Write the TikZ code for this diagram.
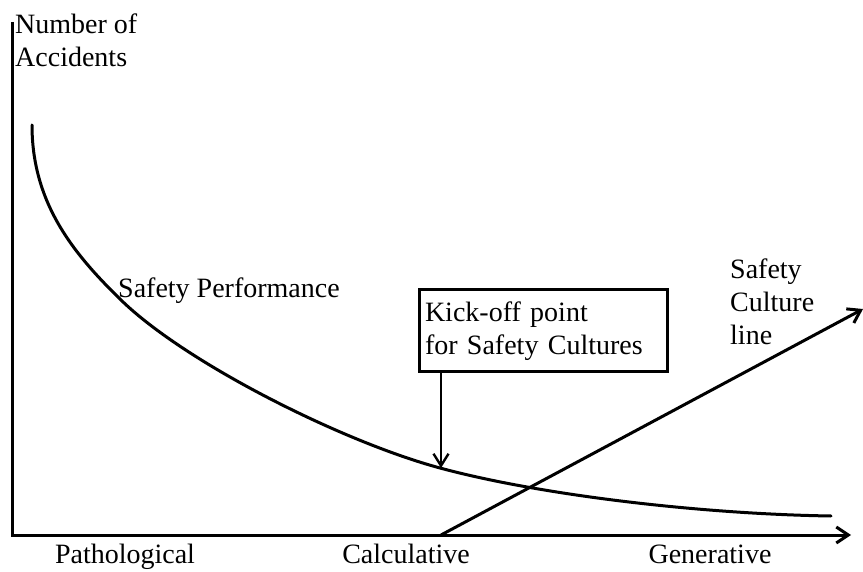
\documentclass[tikz,border=0pt]{standalone}
\usepackage{fontspec}
\setmainfont{Liberation Serif}
\usetikzlibrary{arrows.meta}

\begin{document}
\begin{tikzpicture}[
    x=1pt, y=-1pt,
    axis/.style={line width=3pt, -{Straight Barb[length=12pt, width=16pt]}},
    curve/.style={line width=3pt, line cap=round},
    pointer/.style={line width=2.4pt, -{Straight Barb[length=12pt, width=15pt]}},
    label/.style={inner sep=0pt, font=\fontsize{28}{33}\selectfont},
    kickbox/.style={draw, line width=3pt, minimum width=248pt, minimum height=82pt,
        text width=236pt, align=left, inner sep=0pt, font=\fontsize{28}{33}\selectfont}
]
\useasboundingbox (0,0) rectangle (863,572);

\coordinate (ytop) at (12,22);
\coordinate (origin) at (12,535);
\coordinate (xend) at (851,535);
\coordinate (cstart) at (441,535);
\coordinate (cend) at (863,309);
\coordinate (kicktip) at (441,468);
\coordinate (ptop) at (32,125);
\coordinate (pmid) at (118,297);
\coordinate (pcross) at (440,468);
\coordinate (pend) at (831,516);

% axes
\draw[axis] (ytop) -- (origin) -- (xend);

% safety performance curve
\draw[curve] (ptop) .. controls (32,200) and (70,250) .. (pmid)
    .. controls (180,360) and (340,441) .. (pcross)
    .. controls (540,495) and (700,514) .. (pend);

% safety culture line
\draw[axis] (cstart) -- (cend);

\node[kickbox] (kick) at (543,331) {Kick-off point\\for Safety Cultures};
\draw[pointer] (kick.south -| kicktip) -- (kicktip);

\node[label, anchor=north west, align=left] (ylabel) at (15,14) {Number of\\Accidents};
\node[label, anchor=base west] (perf) at (118,298) {Safety Performance};
\node[label, anchor=north west, align=left] (culture) at (730,259) {Safety\\Culture\\line};

\node[label, anchor=base] (patho) at (125,563) {Pathological};
\node[label, anchor=base] (calc) at (406,563) {Calculative};
\node[label, anchor=base] (gener) at (710,563) {Generative};

\end{tikzpicture}
\end{document}
